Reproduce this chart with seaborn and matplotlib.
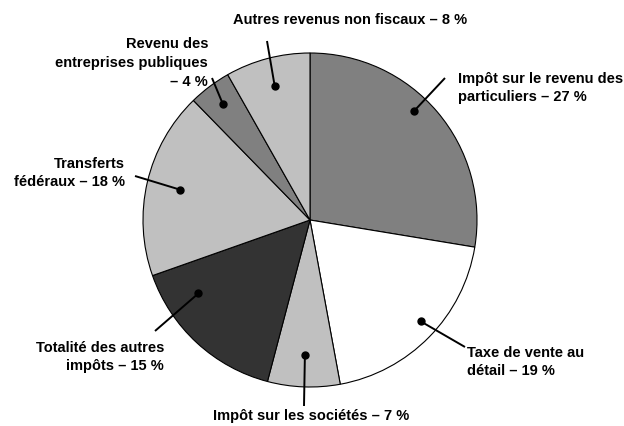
import numpy as np
import matplotlib
matplotlib.use("Agg")
import matplotlib.pyplot as plt
import seaborn as sns

# ---------------------------------------------------------
# DATA (shares, labels as printed)
# ---------------------------------------------------------
sources = [
    "Impôt sur le revenu des\nparticuliers – 27 %",
    "Taxe de vente au\ndétail – 19 %",
    "Impôt sur les sociétés – 7 %",
    "Totalité des autres\nimpôts – 15 %",
    "Transferts\nfédéraux – 18 %",
    "Revenu des\nentreprises publiques\n– 4 %",
    "Autres revenus non fiscaux – 8 %",
]
shares = [27.6, 19.5, 7.0, 15.5, 18.1, 4.1, 8.2]
fills = ["#808080", "#ffffff", "#c0c0c0", "#333333", "#c0c0c0", "#808080", "#c0c0c0"]

# ---------------------------------------------------------
# LAYOUT (pixel positions of the callouts)
# ---------------------------------------------------------
W, H = 624, 427
CX, CY, R = 310, 221, 167

dot_r = [0.90, 0.90, 0.81, 0.80, 0.80, 0.87, 0.83]
dot_shift = [6, 2, 0, -14, 0, 0, 0]          # degrees, nudges the dot off the mid angle
line_end = [(445, 79), (465, 348), (304, 407), (155, 332), (135, 177), (212, 79), (267, 42)]
text_pos = [(458, 88), (467, 362), (311, 416), (164, 357), (125, 173), (208, 63), (350, 20)]
text_ha = ["left", "left", "center", "right", "right", "right", "center"]


def px(x, y):
    return (x - CX) / R, (CY - y) / R


sns.set_theme(style="white")
plt.rcParams["font.family"] = ["Liberation Sans Narrow", "Liberation Sans", "DejaVu Sans"]

fig = plt.figure(figsize=(W / 100, H / 100), dpi=100)
ax = fig.add_axes([0, 0, 1, 1])

wedges, _ = ax.pie(
    shares,
    colors=fills,
    startangle=90,
    counterclock=False,
    radius=1,
    wedgeprops=dict(edgecolor="black", linewidth=0.8),
)

for i, w in enumerate(wedges):
    mid = np.deg2rad((w.theta1 + w.theta2) / 2 + dot_shift[i])
    dx, dy = dot_r[i] * np.cos(mid), dot_r[i] * np.sin(mid)
    ex, ey = px(*line_end[i])
    ax.plot([dx, ex], [dy, ey], color="black", lw=1.4, solid_capstyle="butt", zorder=5)
    ax.plot(dx, dy, "o", color="black", ms=5, zorder=6)
    tx, ty = px(*text_pos[i])
    ax.text(tx, ty, sources[i], ha=text_ha[i], va="center", multialignment=text_ha[i],
            fontsize=10.5, fontweight="bold", color="black", linespacing=1.45)

ax.set_xlim(-CX / R, (W - CX) / R)
ax.set_ylim(-(H - CY) / R, CY / R)
ax.set_aspect("equal")
ax.axis("off")

fig.savefig("out.png", dpi=100, facecolor="white")
